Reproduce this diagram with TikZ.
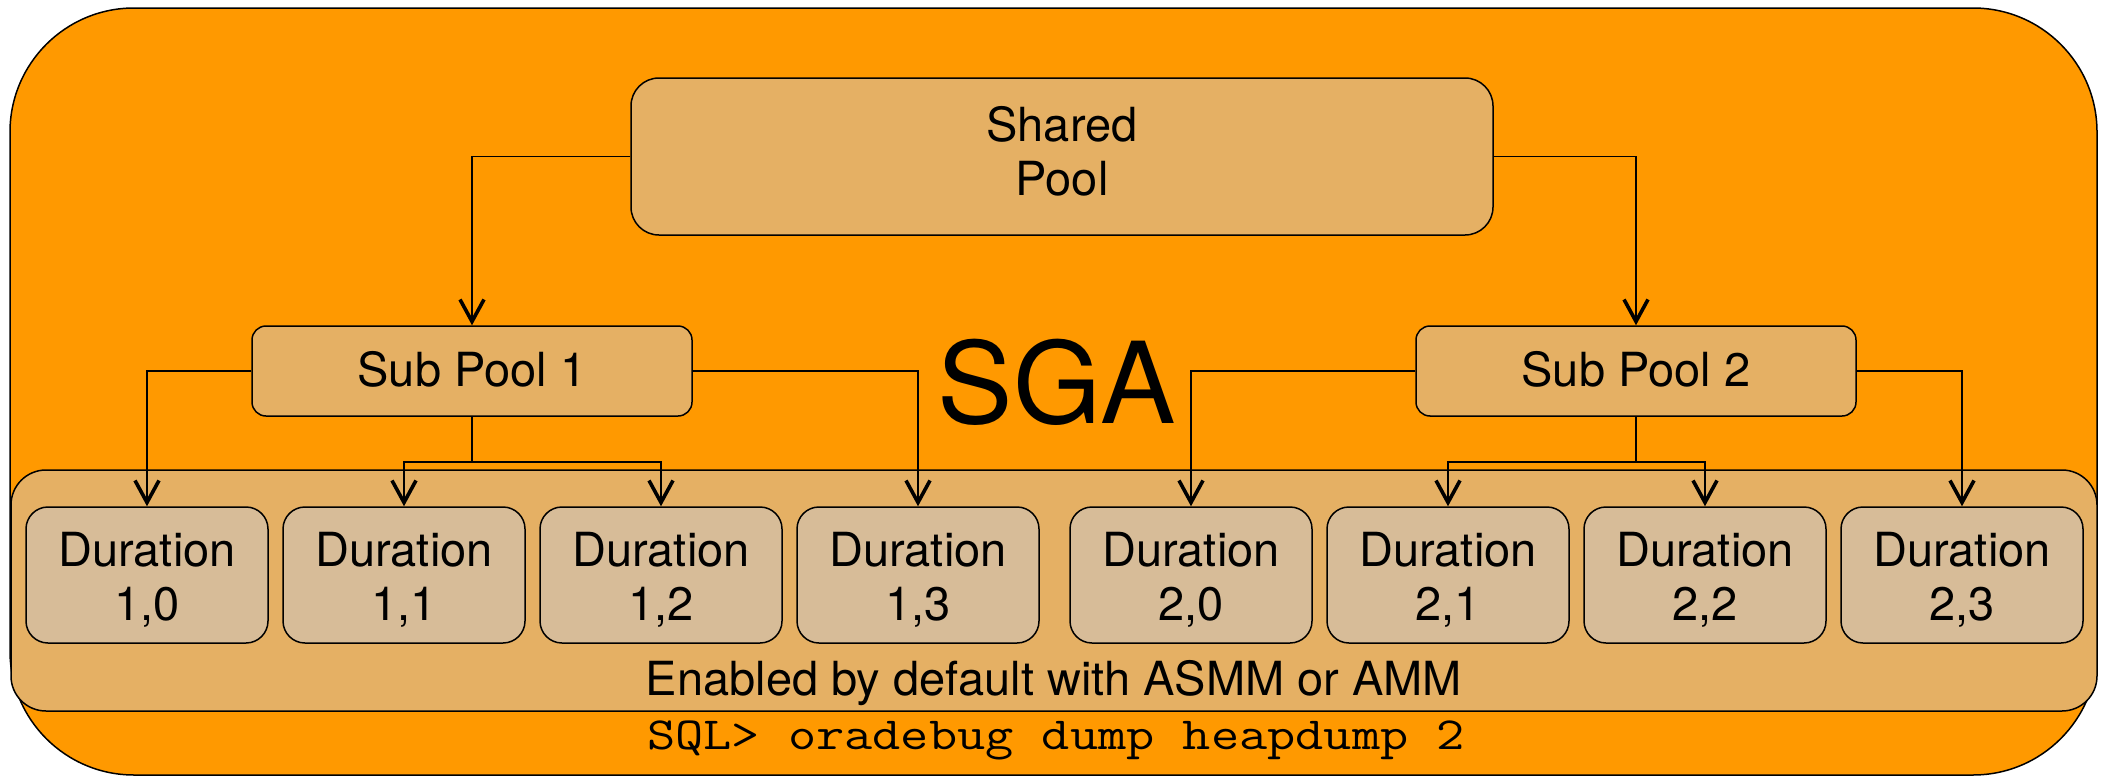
\documentclass[tikz,border=0pt]{standalone}
\usepackage{fontspec}
\setmainfont{TeX Gyre Heros}
\usetikzlibrary{arrows.meta}
\definecolor{sgaorange}{RGB}{255,153,0}
\definecolor{poolfill}{RGB}{229,176,100}
\definecolor{durfill}{RGB}{215,188,152}
\begin{document}
\begin{tikzpicture}[x=0.5pt,y=-0.5pt,
  txt/.style={font=\fontsize{23.5}{27}\selectfont},
  boxbase/.style={draw=black, line width=0.75pt, inner sep=0pt},
  lbl/.style={inner sep=0pt, align=center, txt},
  poolbox/.style={boxbase, fill=poolfill, rounded corners=7pt, minimum width=220pt, minimum height=45pt},
  sharedbox/.style={boxbase, fill=poolfill, rounded corners=14pt, minimum width=431pt, minimum height=78.5pt},
  durbox/.style={boxbase, fill=durfill, rounded corners=11pt, minimum width=121pt, minimum height=68pt},
  conn/.style={draw=black, line width=0.7pt, -{Straight Barb[length=11pt,width=12pt,line width=1.8pt]}},
  plainline/.style={draw=black, line width=0.7pt}
]
\useasboundingbox (0,0) rectangle (2105,776);
% outer SGA area
\node[draw=black, line width=0.75pt, fill=sgaorange, rounded corners=62pt,
      minimum width=1043.5pt, minimum height=383.5pt, inner sep=0pt] (sga) at (1053.5,391.5) {};
% inner enabled area
\node[draw=black, line width=0.75pt, fill=poolfill, rounded corners=17.5pt,
      minimum width=1043pt, minimum height=120.5pt, inner sep=0pt] (inner) at (1054,590.5) {};
% texts
\node[inner sep=0pt, anchor=base, font=\fontsize{56.5}{60}\selectfont] (sgatxt) at (1057,423) {SGA};
\node[inner sep=0pt, anchor=base, txt] (enabled) at (1054,695) {Enabled by default with ASMM or AMM};
\node[inner sep=0pt, anchor=base, font=\ttfamily\fontsize{23}{27}\selectfont] (sql) at (1056,749) {\scalebox{1.19}[1]{SQL> oradebug dump heapdump 2}};
% pools
\node[sharedbox] (shared) at (1062,156.5) {};
\node[lbl] (sharedt) at (1062,151.5) {Shared\\Pool};
\node[poolbox] (sub1) at (472,371) {};
\node[lbl] (sub1t) at (472,369) {Sub Pool 1};
\node[poolbox] (sub2) at (1636,371) {};
\node[lbl] (sub2t) at (1636,369) {Sub Pool 2};
% durations
\node[durbox] (d10) at (147,575) {};
\node[durbox] (d11) at (404,575) {};
\node[durbox] (d12) at (661,575) {};
\node[durbox] (d13) at (918,575) {};
\node[durbox] (d20) at (1191,575) {};
\node[durbox] (d21) at (1448,575) {};
\node[durbox] (d22) at (1705,575) {};
\node[durbox] (d23) at (1962,575) {};
\node[lbl] (d10t) at (147,580) {Duration\\1,0};
\node[lbl] (d11t) at (404,580) {Duration\\1,1};
\node[lbl] (d12t) at (661,580) {Duration\\1,2};
\node[lbl] (d13t) at (918,580) {Duration\\1,3};
\node[lbl] (d20t) at (1191,580) {Duration\\2,0};
\node[lbl] (d21t) at (1448,580) {Duration\\2,1};
\node[lbl] (d22t) at (1705,580) {Duration\\2,2};
\node[lbl] (d23t) at (1962,580) {Duration\\2,3};
% junctions
\coordinate (j1) at (472,462);
\coordinate (j2) at (1636,462);
% connectors
\draw[conn] (shared.west) -| (sub1.north);
\draw[conn] (shared.east) -| (sub2.north);
\draw[conn] (sub1.west) -| (d10.north);
\draw[conn] (sub1.east) -| (d13.north);
\draw[plainline] (sub1.south) -- (j1);
\draw[conn] (j1) -| (d11.north);
\draw[conn] (j1) -| (d12.north);
\draw[conn] (sub2.west) -| (d20.north);
\draw[conn] (sub2.east) -| (d23.north);
\draw[plainline] (sub2.south) -- (j2);
\draw[conn] (j2) -| (d21.north);
\draw[conn] (j2) -| (d22.north);
\end{tikzpicture}
\end{document}
